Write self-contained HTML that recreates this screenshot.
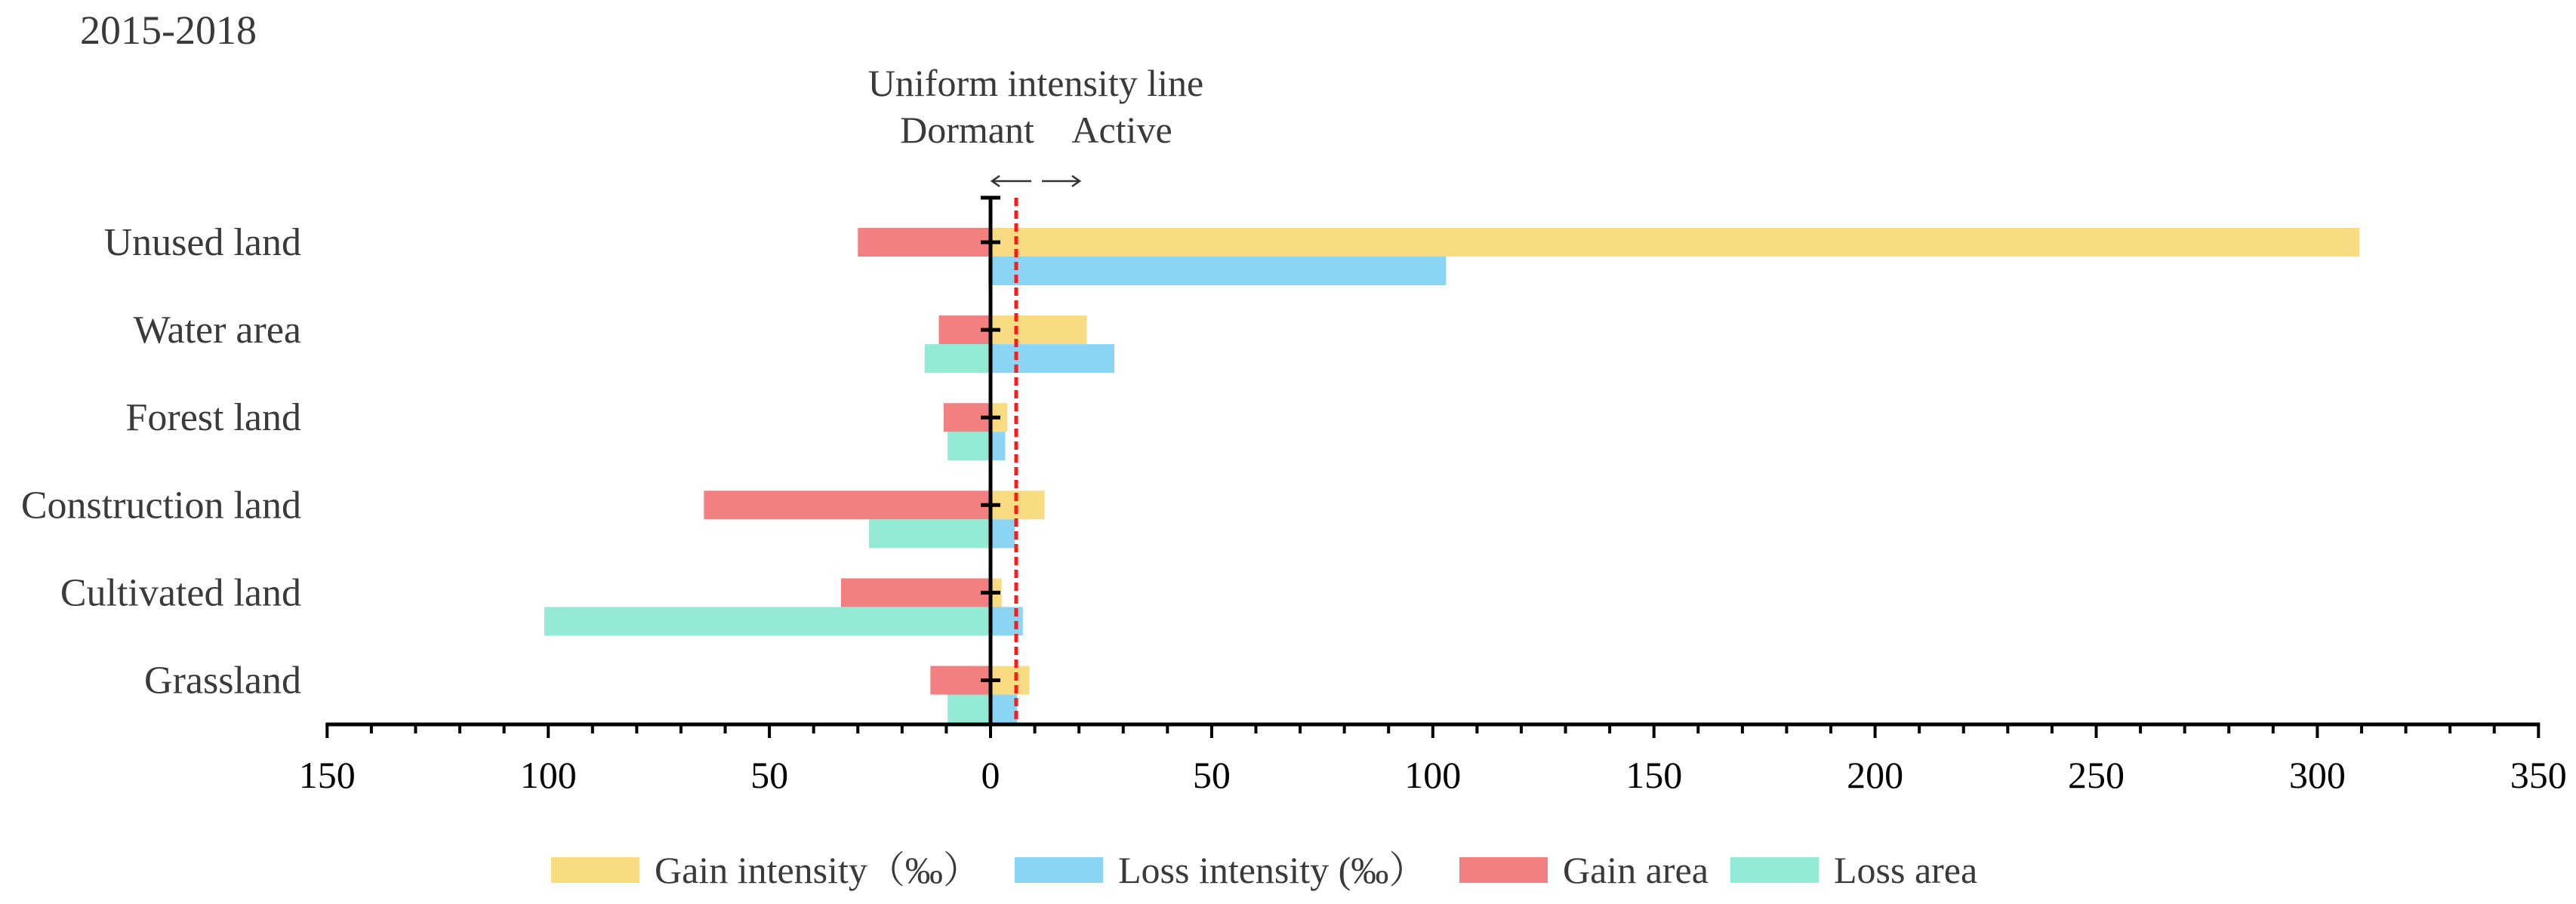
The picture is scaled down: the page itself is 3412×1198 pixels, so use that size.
<!DOCTYPE html>
<html><head><meta charset="utf-8"><style>
html,body{margin:0;padding:0;background:#fff;}
svg{display:block;}
text{font-family:"Liberation Serif","Noto Serif CJK SC",serif;fill:#3a3a3a;}
</style></head><body>
<svg id="chart" width="3412" height="1198" viewBox="0 0 3412 1198" xmlns="http://www.w3.org/2000/svg">
<text x="106" y="58" font-size="54">2015-2018</text>
<text x="1372" y="127" font-size="50" text-anchor="middle">Uniform intensity line</text>
<text x="1281" y="189" font-size="50" text-anchor="middle">Dormant</text>
<text x="1486" y="189" font-size="50" text-anchor="middle">Active</text>
<g stroke="#333" stroke-width="2.5" fill="none">
<line x1="1314" y1="240" x2="1366" y2="240"/><polyline points="1324,233 1314,240 1324,247"/>
</g>
<g stroke="#333" stroke-width="2.5" fill="none">
<line x1="1380" y1="240" x2="1430" y2="240"/><polyline points="1420,233 1430,240 1420,247"/>
</g>
<g id="bars"></g>
<g id="axes"></g>
<g id="legend"></g>
</svg>
<script>
const categories = ["Unused land","Water area","Forest land","Construction land","Cultivated land","Grassland"];
const gainIntensity = [309.5, 21.8, 3.8, 12.2, 2.5, 8.8];
const lossIntensity = [103, 28, 3.3, 5.5, 7.3, 6];
const gainArea = [-30, -11.7, -10.6, -64.8, -33.8, -13.6];
const lossArea = [-0.5, -14.9, -9.7, -27.5, -100.9, -9.7];
const uniformIntensity = [5.8];
const xTicks = [-150,-100,-50,0,50,100,150,200,250,300,350];
const xTickLabels = ["150","100","50","0","50","100","150","200","250","300","350"];

const NS = "http://www.w3.org/2000/svg";
const X0 = 1312, PX = 5.858;
const xs = v => X0 + v * PX;
const yc = i => 321 + i * 116.1;
const BH = 38;
function mk(tag, attrs, parent){const e=document.createElementNS(NS,tag);for(const k in attrs)e.setAttribute(k,attrs[k]);parent.appendChild(e);return e;}
const bars = document.getElementById('bars'), axes = document.getElementById('axes'), legend = document.getElementById('legend');
const colors = {gi:"#F9DC82", li:"#8AD4F4", ga:"#F28080", la:"#93EAD5"};
function bar(v, y, col, name){
  const x1 = Math.min(xs(0), xs(v)), w = Math.abs(xs(v) - xs(0));
  const r = mk('rect', {x:x1, y:y, width:w, height:BH, fill:col}, bars);
  
  
}
categories.forEach((c,i)=>{
  const slug = c.toLowerCase().replace(/ /g,'-');
  bar(gainIntensity[i], yc(i)-19, colors.gi, 'gain-intensity-bar-'+slug);
  bar(gainArea[i], yc(i)-19, colors.ga, 'gain-area-bar-'+slug);
  bar(lossIntensity[i], yc(i)+19, colors.li, 'loss-intensity-bar-'+slug);
  bar(lossArea[i], yc(i)+19, colors.la, 'loss-area-bar-'+slug);
  const t = mk('text', {x:399, y:yc(i)+17, 'font-size':52, 'text-anchor':'end'}, axes);
  t.textContent = c;
  
  
});
// uniform line
const ul = mk('line', {x1:xs(uniformIntensity[0]), x2:xs(uniformIntensity[0]), y1:262, y2:960, stroke:'#FF1A1A', 'stroke-width':5, 'stroke-dasharray':'11 6'}, axes);


// vertical axis
const va = mk('line', {x1:X0, x2:X0, y1:261, y2:960, stroke:'#000', 'stroke-width':5}, axes);


const cap = mk('line', {x1:X0-13, x2:X0+13, y1:262, y2:262, stroke:'#000', 'stroke-width':5}, axes);


categories.forEach((c,i)=>{
  const tk = mk('line', {x1:X0-13, x2:X0+13, y1:yc(i), y2:yc(i), stroke:'#000', 'stroke-width':5}, axes);
  
  
});
// x axis
const xa = mk('line', {x1:xs(-150)-2, x2:xs(350)+2, y1:960, y2:960, stroke:'#000', 'stroke-width':5}, axes);


for(let v=-150; v<=350; v+=10){
  const major = v % 50 === 0;
  const tk = mk('line', {x1:xs(v), x2:xs(v), y1:960, y2:major?978:972, stroke:'#000', 'stroke-width':4}, axes);
  
  
}
xTicks.forEach((v,i)=>{
  const t = mk('text', {x:xs(v), y:1044, 'font-size':50, 'text-anchor':'middle', style:'fill:#000'}, axes);
  t.textContent = xTickLabels[i];
  
  
});
// legend
const legItems = [["Gain intensity（‰）", colors.gi, 730],["Loss intensity (‰）", colors.li, 1344],["Gain area", colors.ga, 1933],["Loss area", colors.la, 2292]];
legItems.forEach(([label,col,x])=>{
  const r = mk('rect', {x:x, y:1136, width:117, height:34, fill:col}, legend);
  
  
  const t = mk('text', {x:x+137, y:1170, 'font-size':50}, legend);
  t.textContent = label;
  
  
});
</script>
</body></html>
